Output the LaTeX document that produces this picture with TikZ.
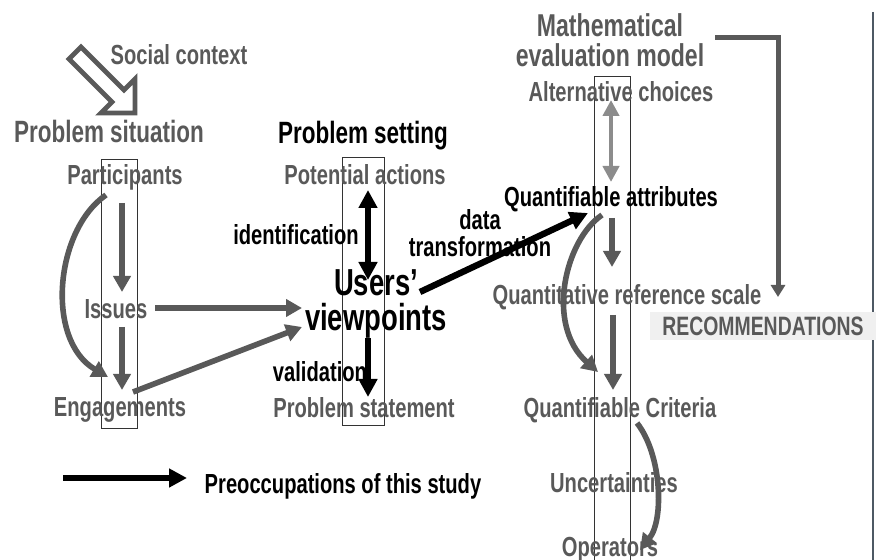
\documentclass[tikz,border=0pt]{standalone}
\usepackage{fontspec}
\setmainfont[FakeStretch=0.73]{Liberation Sans}
\usetikzlibrary{arrows.meta}
\definecolor{labelgray}{HTML}{595959}
\definecolor{paleline}{HTML}{8C8C8C}
\definecolor{edgeslate}{HTML}{4E5964}
\definecolor{notefill}{HTML}{F0F0F0}
\begin{document}
\begin{tikzpicture}[x=0.5pt,y=-0.5pt,
	lbl/.style={font=\fontsize{13.8}{13.5}\selectfont\bfseries,text=labelgray,inner sep=1pt,text depth=0pt},
	head/.style={font=\fontsize{15.4}{14}\selectfont\bfseries,text=labelgray,inner sep=1pt,text depth=0pt,align=center},
	big/.style={font=\fontsize{18.8}{17.5}\selectfont\bfseries,text=black,inner sep=1pt,text depth=0pt,align=center},
	dark/.style={text=black},
	column/.style={draw=black!80,line width=0.5pt,inner sep=0pt},
	garrow/.style={draw=labelgray,line width=2.8pt,>={Triangle[width=8.5pt,length=8pt]},->},
	barrow/.style={draw=black,line width=3.2pt,>={Triangle[width=9pt,length=9pt]},->},
	parrow/.style={draw=paleline,line width=2.2pt,>={Triangle[width=8pt,length=8pt]},<->}]
	\useasboundingbox (0,0) rectangle (876,560);
	\draw[edgeslate,line width=0.8pt] (873,12) -- (873,560);
	% the three columns
	\node[column,minimum width=18pt,minimum height=134pt] (col1) at (119,294) {};
	\node[column,minimum width=21pt,minimum height=133.5pt] (col2) at (363,291.5) {};
	\draw[column] (594,565) -- (594,77) -- (630,77) -- (630,565);
	% social context
	\draw[draw=labelgray,line width=2.4pt,fill=white,line join=miter]
	(81,47) -- (124,90) -- (135,79) -- (135,113) -- (101,113) -- (112,102) -- (69,59) -- cycle;
	\node[lbl] (social) at (179,55) {Social context};
	% problem situation
	\node[head] (situation) at (109,131) {Problem situation};
	\node[lbl] (part) at (125,175) {Participants};
	\node[lbl] (issues) at (116,309) {Issues};
	\node[lbl] (engage) at (120,407) {Engagements};
	% problem setting
	\node[head,dark] (setting) at (363,132) {Problem setting};
	\node[lbl] (actions) at (365,175) {Potential actions};
	\node[lbl,dark] (ident) at (296,235) {identification};
	\node[big] (users) at (376,300) {Users’\\viewpoints};
	\node[lbl,dark] (valid) at (320,371) {validation};
	\node[lbl] (stmt) at (364,407) {Problem statement};
	\node[lbl,dark,align=center] (datatr) at (480,233) {data\\transformation};
	% evaluation model
	\node[head,font=\fontsize{15.8}{15}\selectfont\bfseries] (model) at (610,40) {Mathematical\\evaluation model};
	\node[lbl] (altern) at (621,92) {Alternative choices};
	\node[lbl,dark] (attrib) at (611,197) {Quantifiable attributes};
	\node[lbl] (scale) at (627,295) {Quantitative reference scale};
	\node[lbl,fill=notefill,minimum width=113pt,minimum height=14pt,font=\fontsize{13.3}{12}\selectfont\bfseries] (recomm) at (763,326) {RECOMMENDATIONS};
	\node[lbl] (crit) at (620,407) {Quantifiable Criteria};
	\node[lbl] (uncert) at (614,482) {Uncertainties};
	\node[lbl] (oper) at (610,547) {Operators};
	% legend
	\node[lbl,dark] (legend) at (343,483) {Preoccupations of this study};
	\coordinate (legstart) at (63,478);

	\draw[garrow] ([shift={(-3,28)}]part.center) -- ([shift={(6,-17)}]issues.center);
	\draw[garrow] ([shift={(6,18)}]issues.center) -- ([shift={(2,-17)}]engage.center);
	\draw[garrow] ([shift={(-19,20)}]part.center) .. controls +(-51,35) and +(-63,-37) .. ([shift={(-12,-30)}]engage.center);
	\draw[garrow] ([shift={(39,-1)}]issues.center) -- ([shift={(-74,8)}]users.center);
	\draw[garrow] ([shift={(13,-15)}]engage.center) -- ([shift={(-74,27)}]users.center);

	\draw[barrow,<->] ([shift={(3,15)}]actions.center) -- ([shift={(-8,-20)}]users.center);
	\draw[barrow] ([shift={(-8,38)}]users.center) -- ([shift={(4,-10)}]stmt.center);
	\draw[barrow] ([shift={(44,-8)}]users.center) -- ([shift={(-23,16)}]attrib.center);

	\draw[parrow] ([shift={(-10,8)}]altern.center) -- ([shift={(0,-15)}]attrib.center);
	\draw[garrow] ([shift={(1,21)}]attrib.center) -- ([shift={(-15,-28)}]scale.center);
	\draw[garrow] ([shift={(-9,18)}]attrib.center) .. controls +(-37,25) and +(-53,-47) .. ([shift={(-22,-35)}]crit.center);
	\draw[garrow] ([shift={(-14,20)}]scale.center) -- ([shift={(-7,-17)}]crit.center);
	\draw[garrow] ([shift={(17,16)}]crit.center) .. controls +(25,32) and +(24,-30) .. ([shift={(30,3)}]oper.center);
	\draw[garrow,line width=2.5pt,>={Triangle[width=7pt,length=6pt]}] ([shift={(105,-2)}]model.center) -| ([shift={(15,-29)}]recomm.center);

	\draw[barrow] (legstart) -- ([shift={(-156,-5)}]legend.center);
\end{tikzpicture}
\end{document}
